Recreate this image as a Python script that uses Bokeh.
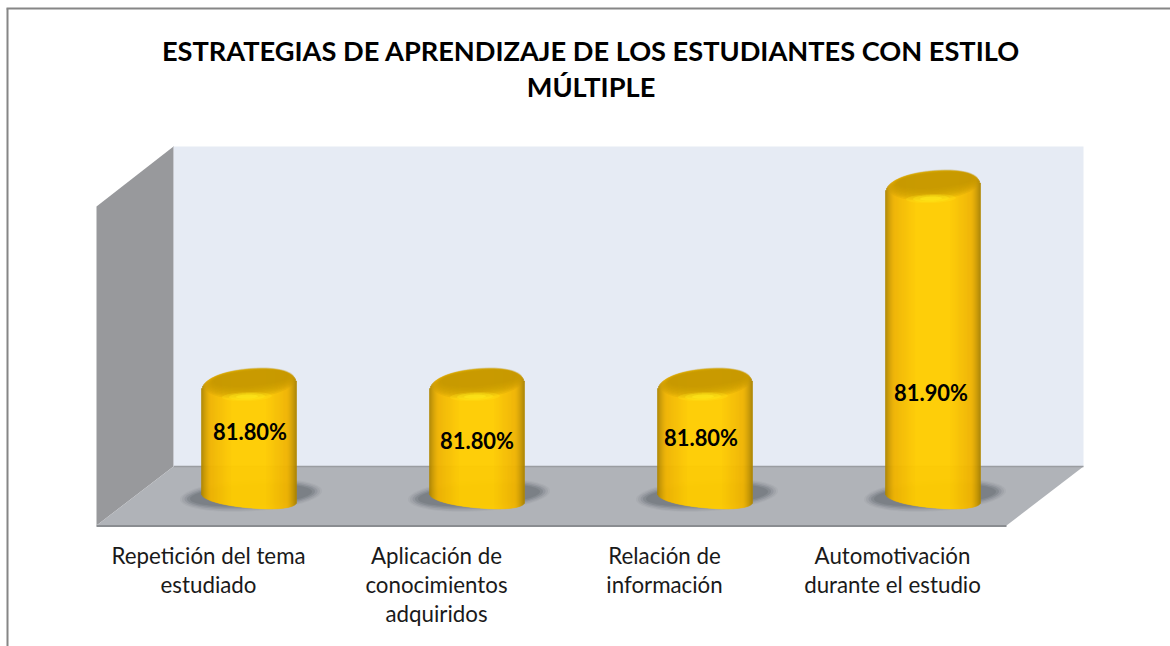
import numpy as np
from bokeh.plotting import figure
from bokeh.models import Range1d
from bokeh.core.properties import value
from bokeh.embed import file_html
from bokeh.resources import INLINE

# ---------- chart data ----------
categories = [
    ["Repetición del tema", "estudiado"],
    ["Aplicación de", "conocimientos", "adquiridos"],
    ["Relación de", "información"],
    ["Automotivación", "durante el estudio"],
]
values = [81.80, 81.80, 81.80, 81.90]
value_labels = ["81.80%", "81.80%", "81.80%", "81.90%"]
title_lines = ["ESTRATEGIAS DE APRENDIZAJE DE LOS ESTUDIANTES CON ESTILO", "MÚLTIPLE"]

# ---------- layout ----------
W, H = 1170, 646
FONT = value("Lato")
PX_PER_UNIT_Y = 1980.0   # screen px per percentage point
Y_REF, V_REF = 384.0, 81.80
BASE_V = 81.743
X0, DX = 248.5, 228.0


def v_at(y):
    return V_REF + (Y_REF - y) / PX_PER_UNIT_Y


p = figure(width=W, height=H, output_backend="svg", toolbar_location=None,
           x_range=Range1d(0, W), y_range=Range1d(H, 0),
           min_border=0, outline_line_color=None, background_fill_color="white",
           border_fill_color="white")
p.axis.visible = False
p.grid.visible = False
p.extra_y_ranges = {"val": Range1d(v_at(H), v_at(0))}
p.extra_x_ranges = {"cat": Range1d((0 - X0) / DX, (W - X0) / DX)}

# outer frame (left and top only are visible in the crop)
p.line([7, 7], [8, 646], line_color="#868686", line_width=2)
p.line([6, 1170], [8, 8], line_color="#868686", line_width=2)

# 3-D chart box
p.patch([173, 1083, 1083, 173], [146, 146, 466, 466], fill_color="#e6ebf4", line_color=None)
p.patch([96, 173, 173, 96], [206, 146, 466, 525], fill_color="#98999c", line_color=None)
p.patch([96, 173, 1083, 1006], [525, 466, 466, 525], fill_color="#b0b3b8", line_color=None)
p.line([173, 1083], [466, 466], line_color="#9a9da1", line_width=1.5)
p.line([96, 1006], [525.5, 525.5], line_color="#8a8d91", line_width=2)
p.line([173, 173], [146, 466], line_color="#c8cad0", line_width=1)


def lerp_hex(c1, c2, t):
    a = np.array([int(c1[i:i + 2], 16) for i in (1, 3, 5)], float)
    b = np.array([int(c2[i:i + 2], 16) for i in (1, 3, 5)], float)
    return "#%02x%02x%02x" % tuple(int(round(x)) for x in a + (b - a) * t)


def body_color(u):
    t = abs(u)
    if t < 0.35:
        return "#ffcc00"
    if t < 0.8:
        return lerp_hex("#ffcc00", "#f0b400", (t - 0.35) / 0.45)
    return lerp_hex("#f0b400", "#ab8300", ((t - 0.8) / 0.2) ** 1.4)


def blob(cx, v, w, h, tilt, n=2.0, dx=0.0, dy=0.0, steps=80):
    """Tilted rounded ellipse around a bar position: x in px, y in value units."""
    th = np.linspace(0, 2 * np.pi, steps)
    c, s = np.cos(th), np.sin(th)
    px = cx + dx + w / 2 * np.sign(c) * np.abs(c) ** (2 / n)
    rel = h / 2 * np.sign(s) * np.abs(s) ** (2 / n)
    rel = rel - tilt * (px - cx) + dy
    return px, v - rel / PX_PER_UNIT_Y


BAR_W = 95.0
TOP_H = 19.0
N = 2.3
TILT = 0.08

for i, v in enumerate(values):
    cx = X0 + DX * i
    # soft shadow on the floor
    for sw, sh, a in [(142, 32, .08), (138, 30, .13), (133, 27, .2), (128, 24, .28), (122, 21, .34)]:
        xs, ys = blob(cx, BASE_V, sw, sh, 0.06, dx=2, dy=-2)
        p.patch(xs, ys, y_range_name="val", fill_color="#666b71", fill_alpha=a, line_color=None)

    # cylinder body as narrow vertical strips of a horizontal gradient
    edges = np.arange(-BAR_W / 2, BAR_W / 2 + .01, 1.0)
    for a, b in zip(edges[:-1], edges[1:]):
        m = (a + b) / 2
        u = m / (BAR_W / 2)
        arc = (1 - abs(u) ** N) ** (1 / N)
        top = v + (-4 + TOP_H * arc + TILT * m) / PX_PER_UNIT_Y
        bot = BASE_V - (10.5 * (1 - abs(u) ** 2.2) ** (1 / 2.2) + 0.09 * m) / PX_PER_UNIT_Y
        c = body_color(u)
        p.quad(left=cx + a, right=cx + b, top=top, bottom=bot, y_range_name="val",
               fill_color=c, line_color=c, line_width=0.6)

    # soft-edged darker top face
    for t in np.linspace(0, 1, 9):
        xs, ys = blob(cx, v, 90 - 16 * t, 30 - 15 * t, TILT, n=2.1, dx=1 + t, dy=-1.5 - 4.5 * t)
        p.patch(xs, ys, y_range_name="val", fill_color="#c49800", fill_alpha=0.22, line_color=None)
    # specular highlight on the front rim
    for sw, sh, a in [(50, 9, .25), (36, 7, .4), (22, 4, .6)]:
        xs, ys = blob(cx, v, sw, sh, 0.03, dx=-2, dy=12)
        p.patch(xs, ys, y_range_name="val", fill_color="#ffe81a", fill_alpha=a, line_color=None)

# value labels (in the bars, with the reference's small nudges)
label_dx = [1, 0, -4, -2]
label_v = [v_at(431), v_at(440), v_at(437), v_at(392)]
p.text([X0 + DX * i + label_dx[i] for i in range(4)], label_v, text=value_labels,
       y_range_name="val", text_font=FONT, text_font_style="bold", text_font_size="21.9px",
       text_color="black", text_align="center", text_baseline="middle")

# category labels
for i, lines in enumerate(categories):
    for j, line in enumerate(lines):
        p.text([X0 + DX * i - 40.5], [555 + 29 * j], text=[line], text_font=FONT,
               text_font_size="22.3px", text_color="#1a1a1a", text_align="center",
               text_baseline="middle")

# title
for j, line in enumerate(title_lines):
    p.text([590.5], [50 + 36 * j], text=[line], text_font=FONT, text_font_style="bold",
           text_font_size="27.2px", text_color="black", text_align="center",
           text_baseline="middle")

open("out.html", "w").write(file_html(p, INLINE))
